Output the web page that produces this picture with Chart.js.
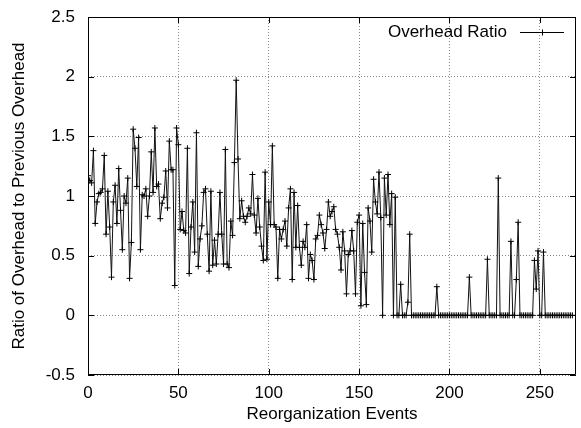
<!DOCTYPE html>
<html>
<head>
<meta charset="utf-8">
<script src="https://cdn.jsdelivr.net/npm/chart.js@4"></script>
<style>
  html, body { margin: 0; padding: 0; background: #fff; }
  #wrap { width: 581px; height: 428px; }
</style>
</head>
<body>
<div id="wrap"><canvas id="chart" width="581" height="428"></canvas></div>
<script>
////// data

const seriesName = 'Overhead Ratio';
const xTitle = 'Reorganization Events';
const yTitle = 'Ratio of Overhead to Previous Overhead';
const xTicks = [0, 50, 100, 150, 200, 250];
const yTicks = [-0.5, 0, 0.5, 1, 1.5, 2, 2.5];

const ratios = [
    1.17, 1.13, 1.11, 1.38, 0.77, 0.95, 1.02, 1.03, 1.06, 1.34,
    0.68, 1.04, 0.74, 0.32, 0.95, 1.09, 0.77, 1.23, 0.88, 0.55,
    1.00, 0.94, 1.15, 0.31, 0.61, 1.56, 1.40, 1.08, 1.49, 0.55,
    1.01, 1.00, 1.06, 0.83, 1.00, 1.37, 1.03, 1.57, 1.08, 1.10,
    0.81, 0.94, 0.99, 1.21, 0.90, 1.46, 1.22, 1.22, 0.25, 1.57,
    1.43, 0.72, 0.87, 0.71, 0.69, 1.40, 0.35, 0.74, 0.95, 0.53,
    1.53, 0.41, 0.64, 0.75, 1.03, 1.06, 0.68, 0.37, 1.04, 0.42,
    0.63, 0.43, 0.68, 1.03, 0.68, 0.43, 1.39, 0.43, 0.40, 0.79,
    0.67, 1.28, 1.97, 1.31, 0.81, 0.96, 0.83, 0.78, 0.83, 0.90,
    0.85, 1.18, 0.84, 0.69, 0.98, 0.74, 0.58, 0.46, 1.20, 0.47,
    0.95, 0.76, 1.42, 0.76, 0.74, 0.31, 0.72, 0.64, 0.72, 0.79,
    0.58, 0.90, 1.06, 0.30, 1.03, 0.57, 0.92, 0.57, 0.42, 0.62,
    0.57, 0.76, 0.31, 0.51, 0.46, 0.30, 0.64, 0.67, 0.84, 0.76,
    0.69, 0.56, 0.72, 0.95, 0.83, 0.87, 0.91, 0.72, 0.68, 0.57,
    0.38, 0.70, 0.54, 0.18, 0.51, 0.54, 0.71, 0.54, 0.18, 0.78,
    0.84, 0.08, 0.77, 0.36, 0.09, 0.90, 0.79, 0.53, 1.14, 0.95,
    0.85, 1.20, 0.82, 0.00, 1.15, 0.84, 1.18, 0.76, 1.02, 0.00,
    0.99, 0.00, 0.00, 0.26, 0.00, 0.00, 0.00, 0.11, 0.68, 0.00,
    0.00, 0.00, 0.00, 0.00, 0.00, 0.00, 0.00, 0.00, 0.00, 0.00,
    0.00, 0.00, 0.00, 0.24, 0.00, 0.00, 0.00, 0.00, 0.00, 0.00,
    0.00, 0.00, 0.00, 0.00, 0.00, 0.00, 0.00, 0.00, 0.00, 0.00,
    0.00, 0.32, 0.00, 0.00, 0.00, 0.00, 0.00, 0.00, 0.00, 0.00,
    0.00, 0.47, 0.00, 0.00, 0.00, 0.00, 0.00, 1.15, 0.00, 0.00,
    0.00, 0.00, 0.00, 0.00, 0.62, 0.00, 0.00, 0.30, 0.78, 0.00,
    0.00, 0.00, 0.00, 0.00, 0.00, 0.00, 0.00, 0.46, 0.22, 0.54,
    0.00, 0.00, 0.53, 0.00, 0.00, 0.00, 0.00, 0.00, 0.00, 0.00,
    0.00, 0.00, 0.00, 0.00, 0.00, 0.00, 0.00, 0.00, 0.00
];

////// gnuplot-ish frame: box, inward ticks, legend inside the plot

const framePlugin = {
    id: 'frame',
    afterDatasetsDraw(chart) {
        const { ctx, chartArea: a, scales } = chart;
        const len = 6;
        ctx.save();
        ctx.strokeStyle = '#000';
        ctx.lineWidth = 1;
        ctx.beginPath();
        ctx.rect(Math.round(a.left) + 0.5, Math.round(a.top) + 0.5,
                 Math.round(a.right - a.left) - 1, Math.round(a.bottom - a.top) - 1);
        scales.x.ticks.forEach(t => {
            const px = Math.round(scales.x.getPixelForValue(t.value)) + 0.5;
            ctx.moveTo(px, a.bottom); ctx.lineTo(px, a.bottom - len);
            ctx.moveTo(px, a.top); ctx.lineTo(px, a.top + len);
        });
        scales.y.ticks.forEach(t => {
            const py = Math.round(scales.y.getPixelForValue(t.value)) + 0.5;
            ctx.moveTo(a.left, py); ctx.lineTo(a.left + len, py);
            ctx.moveTo(a.right, py); ctx.lineTo(a.right - len, py);
        });
        ctx.stroke();

        // legend
        const ly = a.top + 15.5;
        ctx.font = '17px "Liberation Sans", Arial, sans-serif';
        ctx.fillStyle = '#000';
        ctx.textAlign = 'right';
        ctx.textBaseline = 'middle';
        ctx.fillText(seriesName, a.right - 69, ly);
        ctx.beginPath();
        ctx.moveTo(a.right - 56, ly); ctx.lineTo(a.right - 12, ly);
        const cx = a.right - 34;
        ctx.moveTo(cx - 3, ly); ctx.lineTo(cx + 3, ly);
        ctx.moveTo(cx + 0.5, ly - 3); ctx.lineTo(cx + 0.5, ly + 3);
        ctx.stroke();
        ctx.restore();
    }
};

Chart.defaults.font.family = '"Liberation Sans", Arial, sans-serif';
Chart.defaults.font.size = 17;
Chart.defaults.color = '#000';

const ctx = document.getElementById('chart').getContext('2d');
new Chart(ctx, {
    type: 'line',
    data: {
        datasets: [{
            label: seriesName,
            data: ratios.map((v, i) => ({ x: i, y: v })),
            borderColor: '#111',
            borderWidth: 1,
            pointStyle: 'cross',
            pointRadius: 3,
            pointBorderWidth: 1,
            pointBorderColor: '#000',
            tension: 0,
            fill: false
        }]
    },
    options: {
        responsive: false,
        animation: false,
        layout: { padding: { top: 17, right: 4, left: 0, bottom: 0 } },
        plugins: {
            legend: { display: false },
            tooltip: { enabled: false }
        },
        scales: {
            x: {
                type: 'linear',
                min: 0,
                max: 270,
                afterBuildTicks: s => { s.ticks = xTicks.map(v => ({ value: v })); },
                afterFit: s => { s.height = 53; },
                ticks: { padding: 1, maxRotation: 0, callback: v => String(v) },
                grid: { color: '#888', lineWidth: 1, drawTicks: true, tickLength: 7, tickColor: 'rgba(0,0,0,0)' },
                border: { display: false, dash: [1, 2] },
                title: { display: true, text: xTitle, padding: { top: 0, bottom: 3 } }
            },
            y: {
                min: -0.5,
                max: 2.5,
                afterBuildTicks: s => { s.ticks = yTicks.map(v => ({ value: v })); },
                afterFit: s => { s.width = 88; },
                ticks: { padding: 1, callback: v => String(Math.round(v * 10) / 10) },
                grid: { color: '#888', lineWidth: 1, drawTicks: true, tickLength: 12, tickColor: 'rgba(0,0,0,0)' },
                border: { display: false, dash: [1, 2] },
                title: { display: true, text: yTitle, padding: { top: 9, bottom: 0 } }
            }
        }
    },
    plugins: [framePlugin]
});
</script>
</body>
</html>
